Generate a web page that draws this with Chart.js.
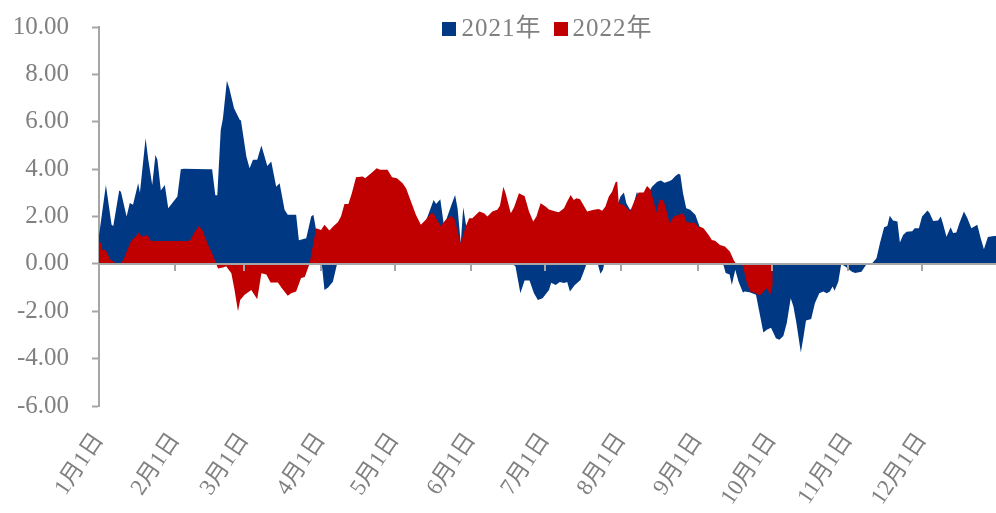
<!DOCTYPE html>
<html>
<head>
<meta charset="utf-8">
<script src="https://cdn.jsdelivr.net/npm/chart.js@4.4.1/dist/chart.umd.min.js"></script>
<style>
  body { margin: 0; background: #fff; }
  #wrap { position: relative; width: 996px; height: 513px; }
  #legend {
    position: absolute; left: 99px; right: 0; top: 13px;
    text-align: center; white-space: nowrap;
    font-family: 'Liberation Serif', 'Noto Sans CJK SC', serif;
    font-size: 25px; line-height: 30px; color: #808080;
  }
  #legend .item { margin: 0 6px; letter-spacing: 1px; }
  #legend i { display: inline-block; width: 14px; height: 14px; margin-right: 5px; }
</style>
</head>
<body>
<div id="wrap">
  <canvas id="chart"></canvas>
  <div id="legend"></div>
</div>
<script>
// day of year (0 = 1月1日) and values
const days21 = [0, 2.8, 5.1, 5.8, 8.2, 8.9, 11.2, 12.5, 13.8, 15.9, 16.6, 18.9, 20, 21.6, 22.9, 23.7, 25.1, 26.7, 28.1, 31.8,
  33.2, 34.4, 44.3, 45.9, 47.2, 48, 49.4, 50.3, 51.9, 52.9, 54.8, 57.1, 57.6, 59.8, 61.1, 62.5, 64.2, 65.9, 68.3, 69.9,
  71.9, 73.3, 75.3, 76.6, 80, 81.1, 84.1, 86.1, 87, 88.1, 90.4, 91.5, 93, 94.9, 96.6, 100, 105, 110, 115, 120,
  125, 130, 133, 135.8, 136.8, 138.5, 140, 143, 144.5, 145.5, 146.8, 147.8, 149, 153, 158, 163, 166, 167.7, 169, 171,
  172.7, 174.7, 176.5, 178.1, 180, 182.6, 183.5, 185.3, 187, 188.7, 190, 191.1, 193, 195.4, 197, 197.8, 202.4, 203.5, 204.5, 205,
  207, 209.5, 211.6, 213, 214, 215.5, 216.5, 218.3, 220, 222, 224.4, 226.5, 228, 229.5, 231.6, 232.5, 233.9, 235.2, 235.9, 237,
  238.3, 239.9, 241, 242, 245, 248, 251, 253.3, 254.3, 255.9, 256.8, 258.2, 259.5, 261.3, 262, 264, 266.6, 269.6, 271, 272.7,
  274.7, 276.1, 277.7, 279.1, 280.7, 281.8, 283, 284.8, 285.9, 286.9, 289, 290.5, 292.3, 293.9, 295.3, 296.6, 297.7, 298.5, 300, 301.2,
  302.7, 305.4, 306.8, 309.4, 311.5, 313.5, 315.5, 316.9, 318.6, 319.9, 320.9, 322.2, 324, 325, 326.3, 327.7, 330, 331, 332.7, 334,
  336.2, 337.1, 338.5, 340.5, 341.6, 342.6, 343.9, 345.6, 346.6, 347.9, 349.2, 351, 352.4, 354, 356.4, 357.8, 359.1, 360.7, 363.2, 364];
const vals21 = [1.2, 3.33, 1.65, 1.6, 3.1, 3.05, 2.0, 2.57, 2.5, 3.4, 3.0, 5.3, 4.4, 3.33, 4.6, 4.4, 3.1, 3.33, 2.35, 2.84,
  4.0, 4.02, 4.0, 4.0, 2.9, 2.9, 5.65, 6.15, 7.73, 7.4, 6.57, 6.08, 6.05, 4.53, 4.04, 4.4, 4.4, 5.0, 4.13, 4.32,
  3.26, 3.4, 2.28, 2.07, 2.07, 1.0, 1.08, 2.0, 2.07, 1.43, 0, -1.1, -1.0, -0.75, 0, 0.9, 1.4, 1.8, 1.6, 1.5,
  1.6, 1.3, 1.9, 2.7, 2.53, 2.73, 1.6, 2.49, 2.91, 2.35, 0.87, 2.39, 1.6, 1.4, 1.2, 0.7, 0.2, 0, -0.1, -1.24,
  -0.7, -0.7, -1.24, -1.52, -1.45, -1.1, -0.8, -0.89, -0.76, -0.81, -0.76, -1.17, -0.9, -0.68, -0.25, 0, 0, -0.42, -0.25, 0,
  1.4, 2.2, 2.84, 3.01, 2.56, 2.28, 2.35, 3.05, 2.6, 2.8, 3.26, 3.47, 3.52, 3.43, 3.5, 3.55, 3.71, 3.8, 3.76, 2.98,
  2.35, 2.28, 2.17, 2.07, 1.2, 0.9, 0.4, 0, -0.39, -0.45, -0.89, -0.25, -0.74, -1.21, -1.17, -1.2, -1.3, -2.9, -2.78, -2.7,
  -3.14, -3.2, -3.05, -2.5, -1.45, -1.8, -2.5, -3.74, -3.07, -2.39, -2.33, -1.66, -1.24, -1.17, -1.24, -1.17, -0.96, -1.13, -0.75, 0,
  -0.1, -0.32, -0.38, -0.33, 0, 0, 0.24, 0.87, 1.55, 1.6, 2.03, 1.83, 1.79, 0.9, 1.22, 1.36, 1.38, 1.5, 1.5, 2.0,
  2.25, 2.14, 1.81, 1.83, 2.0, 1.65, 1.15, 1.55, 1.3, 1.32, 1.74, 2.21, 1.93, 1.5, 1.65, 1.08, 0.62, 1.13, 1.18, 1.18];

const days22 = [0, 1, 1.4, 2.7, 4.5, 6.5, 7.8, 9.9, 11.2, 13.2, 14.8, 16.2, 17.3, 19.7, 21, 36.8, 38.9, 40.5, 41.9, 44.3,
  45.6, 47.6, 48.3, 50.3, 51.6, 53.7, 55, 56.4, 57.3, 59.1, 61.8, 64.2, 65.9, 67.9, 69.6, 72.6, 74.2, 76.6, 78, 80,
  82, 83.5, 85.4, 88.1, 90.1, 91.5, 93.5, 95, 96.9, 98.2, 99.6, 101.2, 102.6, 104.3, 107, 108, 110.4, 112.7, 114.1, 117.1,
  118.9, 120.9, 123.2, 124.6, 126.6, 128.6, 130.6, 132.6, 134.7, 135.7, 137.1, 138.7, 140.7, 143, 144.4, 146.2, 146.8, 148.8, 150.2, 151.5,
  154.3, 156.3, 157.6, 159.6, 161.6, 162.7, 164.1, 165, 167.1, 168.4, 170.4, 171.8, 172.7, 174.5, 176.2, 177.5, 179.2, 181.2, 182.6, 185.3,
  186.6, 188.7, 190, 191.4, 192.7, 193.8, 195.2, 198.1, 200.8, 202.8, 204.2, 205.5, 206.9, 208.2, 209.6, 210.3, 210.9, 213, 214.3, 215.5,
  217.7, 219, 221, 222.4, 223.7, 225.1, 226.2, 227.5, 229.1, 230.2, 231.6, 233.2, 235.9, 237.2, 238.3, 239.9, 241.9, 243.3, 243.7, 245.3,
  247.4, 248.7, 250, 252, 254, 256, 257.5, 258.5, 260, 261.3, 262.9, 264.3, 266.6, 268.3, 269.6, 271, 272.4, 273.4];
const vals22 = [0.94, 0.85, 0.59, 0.59, 0.2, 0.05, -0.05, 0.15, 0.52, 1.0, 1.15, 1.32, 1.15, 1.22, 0.97, 0.97, 1.36, 1.6, 1.43, 0.8,
  0.52, 0, -0.2, -0.15, -0.1, -0.4, -1.1, -2.0, -1.52, -1.3, -1.1, -1.49, -0.4, -0.45, -0.79, -0.79, -1.03, -1.35, -1.24, -1.17,
  -0.6, -0.55, 0, 1.5, 1.43, 1.65, 1.41, 1.58, 1.76, 2.0, 2.53, 2.53, 2.98, 3.66, 3.69, 3.62, 3.83, 4.04, 3.97, 3.97,
  3.66, 3.62, 3.4, 3.19, 2.63, 2.07, 1.65, 1.86, 2.14, 2.14, 1.86, 1.6, 1.86, 2.03, 1.86, 1.08, 0.87, 1.57, 1.93, 1.93,
  2.21, 2.14, 2.0, 2.21, 2.28, 2.45, 3.26, 2.98, 2.14, 2.38, 2.98, 2.91, 2.87, 2.21, 1.79, 2.0, 2.56, 2.42, 2.3, 2.21,
  2.18, 2.35, 2.63, 2.91, 2.7, 2.77, 2.73, 2.21, 2.28, 2.32, 2.24, 2.42, 2.84, 3.05, 3.45, 3.48, 2.56, 2.49, 2.35, 2.21,
  2.77, 3.01, 3.01, 3.29, 3.15, 2.63, 2.17, 2.73, 2.67, 2.28, 1.69, 2.0, 2.1, 2.14, 1.79, 1.74, 1.74, 1.55, 1.58, 1.5,
  1.22, 1.01, 0.98, 0.8, 0.73, 0.52, 0.17, 0, 0, -0.09, -0.81, -1.17, -1.24, -1.34, -1.17, -1.03, -1.3, -0.89];

const monthStarts = [0, 31, 59, 90, 120, 151, 181, 212, 243, 273, 304, 334];
const monthLabels = ['1月1日', '2月1日', '3月1日', '4月1日', '5月1日', '6月1日',
  '7月1日', '8月1日', '9月1日', '10月1日', '11月1日', '12月1日'];
const seriesNames = ['2021年', '2022年'];

const blue = '#003884';
const red = '#C00000';
const axisColor = '#A6A6A6';
const textColor = '#808080';
const fontFamily = "'Liberation Serif', 'Noto Sans CJK SC', serif";

// zero line with month tick marks, drawn over the areas
const zeroAxis = {
  id: 'zeroAxis',
  afterDatasetsDraw(chart) {
    const { ctx, chartArea, scales: { x, y } } = chart;
    const y0 = Math.round(y.getPixelForValue(0));
    ctx.save();
    ctx.strokeStyle = axisColor;
    ctx.lineWidth = 2;
    ctx.beginPath();
    ctx.moveTo(chartArea.left, y0);
    ctx.lineTo(chartArea.right, y0);
    monthStarts.forEach(d => {
      const px = Math.round(x.getPixelForValue(d));
      ctx.moveTo(px, y0);
      ctx.lineTo(px, y0 + 7);
    });
    ctx.stroke();
    ctx.restore();
  }
};

function toPoints(days, vals) {
  return days.map((d, i) => ({ x: d, y: vals[i] }));
}

const chart = new Chart(document.getElementById('chart'), {
  type: 'line',
  data: {
    datasets: [
      {
        label: seriesNames[0],
        data: toPoints(days21, vals21),
        backgroundColor: blue,
        borderColor: blue,
        borderWidth: 0,
        pointRadius: 0,
        fill: 'origin',
        order: 2
      },
      {
        label: seriesNames[1],
        data: toPoints(days22, vals22),
        backgroundColor: red,
        borderColor: red,
        borderWidth: 0,
        pointRadius: 0,
        fill: 'origin',
        order: 1
      }
    ]
  },
  options: {
    responsive: true,
    maintainAspectRatio: false,
    animation: false,
    layout: { padding: { top: 27, right: 0, bottom: 0, left: 0 } },
    plugins: {
      legend: { display: false },
      tooltip: { enabled: false }
    },
    scales: {
      x: {
        type: 'linear',
        min: 0,
        max: 364,
        grid: { display: false },
        border: { display: false },
        afterBuildTicks(scale) {
          scale.ticks = monthStarts.map(v => ({ value: v }));
        },
        afterFit(scale) {
          scale.height = 107;
        },
        ticks: {
          autoSkip: false,
          minRotation: 56,
          maxRotation: 56,
          padding: 14,
          color: textColor,
          font: { family: fontFamily, size: 23 },
          callback: (v) => monthLabels[monthStarts.indexOf(v)]
        }
      },
      y: {
        min: -6,
        max: 10,
        grid: {
          drawOnChartArea: false,
          drawTicks: true,
          tickLength: 7,
          tickWidth: 2,
          color: axisColor
        },
        border: { display: true, color: axisColor, width: 2 },
        afterFit(scale) {
          // fixed axis width; top padding comes from layout only
          scale.width = 99;
          scale.paddingTop = 0;
          scale.paddingBottom = 0;
        },
        ticks: {
          stepSize: 2,
          padding: 23,
          color: textColor,
          font: { family: fontFamily, size: 25 },
          callback: (v) => v.toFixed(2)
        }
      }
    }
  },
  plugins: [zeroAxis]
});

// legend as html text
const legendEl = document.getElementById('legend');
chart.data.datasets.forEach(ds => {
  const item = document.createElement('span');
  item.className = 'item';
  const box = document.createElement('i');
  box.style.background = ds.backgroundColor;
  item.appendChild(box);
  item.appendChild(document.createTextNode(ds.label));
  legendEl.appendChild(item);
});
</script>
</body>
</html>
